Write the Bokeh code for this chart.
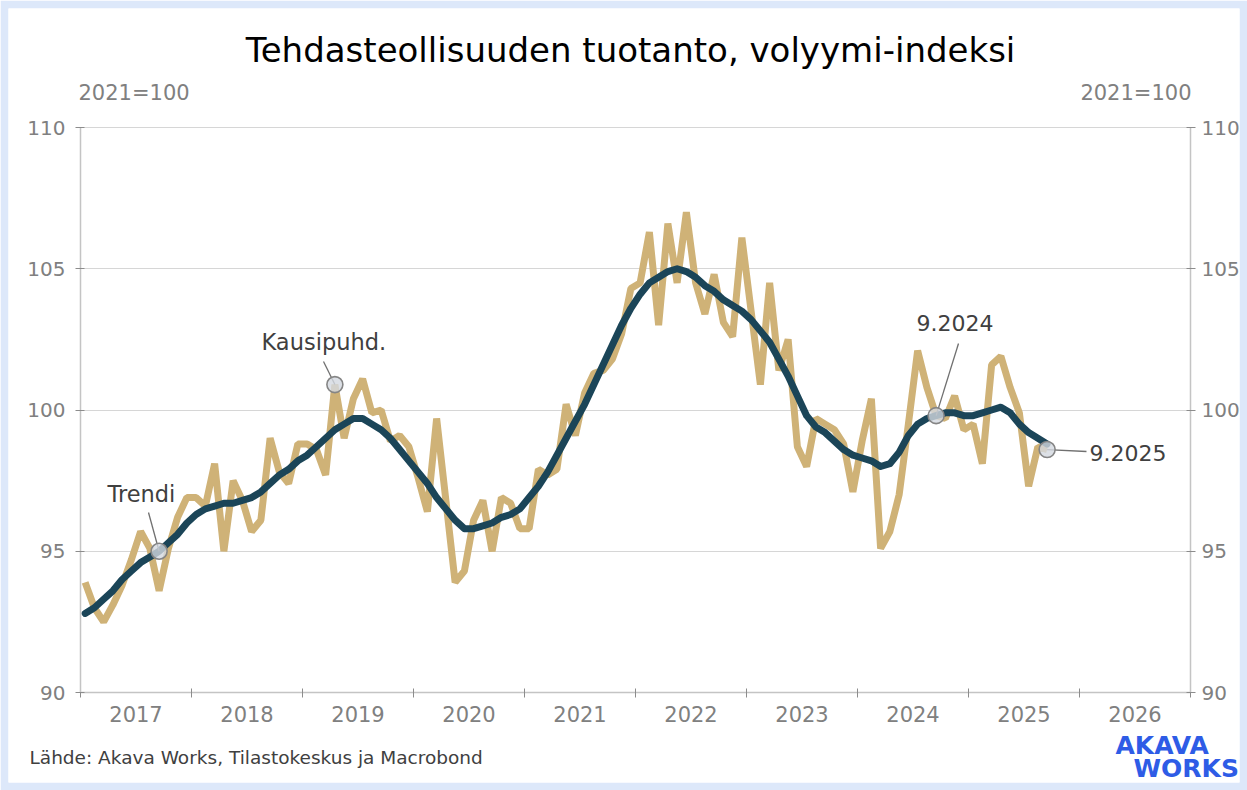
import pandas as pd
from bokeh.plotting import figure
from bokeh.models import (LinearAxis, FixedTicker, CustomJSTickFormatter, Range1d, Label, Grid)
from bokeh.embed import file_html
from bokeh.resources import INLINE

# ---------------- data ----------------
months = pd.date_range("2017-01-01", periods=105, freq="MS")

seasonally_adjusted = [
    93.9, 93.0, 92.5, 93.1, 93.8, 94.7, 95.7, 95.1, 93.6, 95.1, 96.2, 96.9,   # 2017
    96.9, 96.6, 98.1, 95.0, 97.5, 96.8, 95.7, 96.1, 99.0, 97.8, 97.4, 98.8,   # 2018
    98.8, 98.6, 97.7, 100.9, 99.0, 100.4, 101.1, 99.9, 100.0, 98.9, 99.1, 98.7,  # 2019
    97.6, 96.4, 99.7, 96.8, 93.9, 94.3, 96.1, 96.8, 95.0, 96.9, 96.7, 95.8,   # 2020
    95.8, 97.9, 97.7, 97.9, 100.2, 99.1, 100.6, 101.3, 101.4, 101.8, 102.7, 104.3,  # 2021
    104.5, 106.3, 103.0, 106.6, 104.5, 107.0, 104.5, 103.4, 104.8, 103.1, 102.6, 106.1,  # 2022
    103.5, 100.9, 104.5, 101.4, 102.5, 98.7, 98.0, 99.7, 99.5, 99.3, 98.8, 97.1,  # 2023
    98.9, 100.4, 95.1, 95.7, 97.0, 99.5, 102.1, 100.8, 99.8, 99.7, 100.5, 99.3,  # 2024
    99.5, 98.1, 101.6, 101.9, 100.8, 99.9, 97.3, 98.7, 98.6,                   # 2025
]

trend = [
    92.8, 93.0, 93.3, 93.6, 94.0, 94.3, 94.6, 94.8, 95.0, 95.3, 95.6, 96.0,
    96.3, 96.5, 96.6, 96.7, 96.7, 96.8, 96.9, 97.1, 97.4, 97.7, 97.9, 98.2,
    98.4, 98.7, 99.0, 99.3, 99.5, 99.7, 99.7, 99.5, 99.3, 99.0, 98.6, 98.2,
    97.8, 97.4, 96.9, 96.5, 96.1, 95.8, 95.8, 95.9, 96.0, 96.2, 96.3, 96.5,
    96.9, 97.3, 97.8, 98.4, 99.0, 99.6, 100.2, 100.9, 101.6, 102.3, 103.0, 103.6,
    104.1, 104.5, 104.7, 104.9, 105.0, 104.9, 104.7, 104.4, 104.2, 103.9, 103.7, 103.5,
    103.2, 102.8, 102.4, 101.8, 101.2, 100.5, 99.8, 99.4, 99.2, 98.9, 98.6, 98.4,
    98.3, 98.2, 98.0, 98.1, 98.5, 99.1, 99.5, 99.7, 99.8, 99.9, 99.9, 99.8,
    99.8, 99.9, 100.0, 100.1, 99.9, 99.5, 99.2, 99.0, 98.8,
]

year_labels = ["2017", "2018", "2019", "2020", "2021", "2022", "2023", "2024", "2025", "2026"]
y_ticks = [90, 95, 100, 105, 110]

title_text = "Tehdasteollisuuden tuotanto, volyymi-indeksi"
unit_text = "2021=100"
source_text = "Lähde: Akava Works, Tilastokeskus ja Macrobond"
logo_top, logo_bottom = "AKAVA", "WORKS"

# ---------------- styles ----------------
TAN = "#cfb277"
TEAL = "#1b4558"
GRAY_TXT = "#808080"
DARK_TXT = "#404040"
AXIS_LINE = "#c4c4c4"
TICK_COL = "#8c8c8c"
GRID_COL = "#d6d6d6"
PAGE_BLUE = "#dde8fa"
LOGO_BLUE = "#2e5ce6"
FONT = "DejaVu Sans"

W, H = 1247, 790
EDGE = 8                      # light-blue frame around the page
FL, FR, FT, FB = 80, 1190, 127, 692   # chart area on the page (px)

first_year = int(months[0].year)
x = [m.year + (m.month - 0.5) / 12 for m in months]
X0, X1 = first_year, first_year + len(year_labels)
Y0, Y1 = y_ticks[0], y_ticks[-1]

def dx(px):
    return X0 + (px - FL) / (FR - FL) * (X1 - X0)

def dy(py):
    return Y1 - (py - FT) / (FB - FT) * (Y1 - Y0)

p = figure(width=W, height=H, output_backend="svg", toolbar_location=None,
           x_range=Range1d(dx(EDGE), dx(W - EDGE)),
           y_range=Range1d(dy(H - EDGE), dy(EDGE)),
           min_border_left=EDGE, min_border_right=EDGE,
           min_border_top=EDGE, min_border_bottom=EDGE)
p.outline_line_color = None
p.background_fill_color = "white"
p.border_fill_color = PAGE_BLUE
p.xgrid.visible = False

# horizontal grid limited to the chart area
g = p.ygrid[0]
g.ticker = FixedTicker(ticks=y_ticks[1:])
g.grid_line_color = GRID_COL
g.grid_line_width = 1.2
if "cross_bounds" in Grid.properties():
    g.cross_bounds = (X0, X1)
else:
    g.visible = False
    p.segment(x0=[X0] * (len(y_ticks) - 1), x1=[X1] * (len(y_ticks) - 1),
              y0=y_ticks[1:], y1=y_ticks[1:], line_color=GRID_COL, line_width=1.2)

def style_y(ax, standoff):
    ax.ticker = FixedTicker(ticks=y_ticks)
    ax.bounds = (Y0, Y1)
    ax.axis_line_color = AXIS_LINE
    ax.axis_line_width = 1.5
    ax.major_tick_line_color = TICK_COL
    ax.major_tick_in = 4
    ax.major_tick_out = 5
    ax.minor_tick_line_color = None
    ax.major_label_text_font = FONT
    ax.major_label_text_font_size = "20px"
    ax.major_label_text_color = GRAY_TXT
    ax.major_label_standoff = standoff

# left axis
ya = p.yaxis[0]
style_y(ya, 10)
ya.fixed_location = X0

# right axis
yr = LinearAxis()
style_y(yr, 6)
yr.fixed_location = X1
p.add_layout(yr, "right")

# bottom axis: labels at mid-year, tick marks at year boundaries
xa = p.xaxis[0]
xa.fixed_location = Y0
xa.bounds = (X0, X1)
xa.ticker = FixedTicker(ticks=[int(y) + 0.5 for y in year_labels],
                        minor_ticks=list(range(X0, X1 + 1)))
xa.formatter = CustomJSTickFormatter(
    args=dict(labels=year_labels, start=X0),
    code="const i = Math.floor(tick) - start; return (i >= 0 && i < labels.length) ? labels[i] : '';")
xa.axis_line_color = AXIS_LINE
xa.axis_line_width = 1.5
xa.major_tick_line_color = None
xa.major_tick_in = 0
xa.major_tick_out = 0
xa.minor_tick_line_color = TICK_COL
xa.minor_tick_in = 4
xa.minor_tick_out = 5
xa.major_label_text_font = FONT
xa.major_label_text_font_size = "21px"
xa.major_label_text_color = GRAY_TXT
xa.major_label_standoff = 8

# series
p.line(x, seasonally_adjusted, line_color=TAN, line_width=7, line_join="bevel")
p.line(x, trend, line_color=TEAL, line_width=7, line_join="round", line_cap="round")

# annotation callouts
i_trend, i_sa, i_2024, i_2025 = 8, 27, 92, 104
pts_x = [x[i_trend], x[i_sa], x[i_2024], x[i_2025]]
pts_y = [trend[i_trend], seasonally_adjusted[i_sa], trend[i_2024], seasonally_adjusted[i_2025]]
lead_x0 = [dx(148), dx(323), dx(958), dx(1086)]
lead_y0 = [dy(512), dy(361), dy(343), dy(451)]
p.segment(x0=lead_x0, y0=lead_y0, x1=pts_x, y1=pts_y, line_color="#707070", line_width=1.3)
p.scatter(pts_x, pts_y, size=16, marker="circle", fill_color="#d3d8e0", fill_alpha=0.8,
          line_color="#858585", line_width=1.6)

def add_label(text, px, py, size, color, align="left", style="normal", font=FONT):
    p.add_layout(Label(x=dx(px), y=dy(py), text=text, text_font=font, text_font_size=size,
                       text_color=color, text_align=align, text_baseline="middle",
                       text_font_style=style))

add_label("Trendi", 107, 493, "22.5px", DARK_TXT)
add_label("Kausipuhd.", 261, 341, "22.5px", DARK_TXT)
add_label("9.2024", 916, 322, "22px", DARK_TXT)
add_label("9.2025", 1089, 452, "22px", DARK_TXT)

# title, units, source, logo
add_label(title_text, 630, 49, "34px", "black", align="center")
add_label(unit_text, 78, 92, "21px", GRAY_TXT)
add_label(unit_text, 1191, 92, "21px", GRAY_TXT, align="right")
add_label(source_text, 29, 757, "18.5px", DARK_TXT)
add_label(logo_top, 1115, 745, "25px", LOGO_BLUE, style="bold")
add_label(logo_bottom, 1133, 768, "25px", LOGO_BLUE, style="bold")

open("out.html", "w").write(file_html(p, INLINE))
